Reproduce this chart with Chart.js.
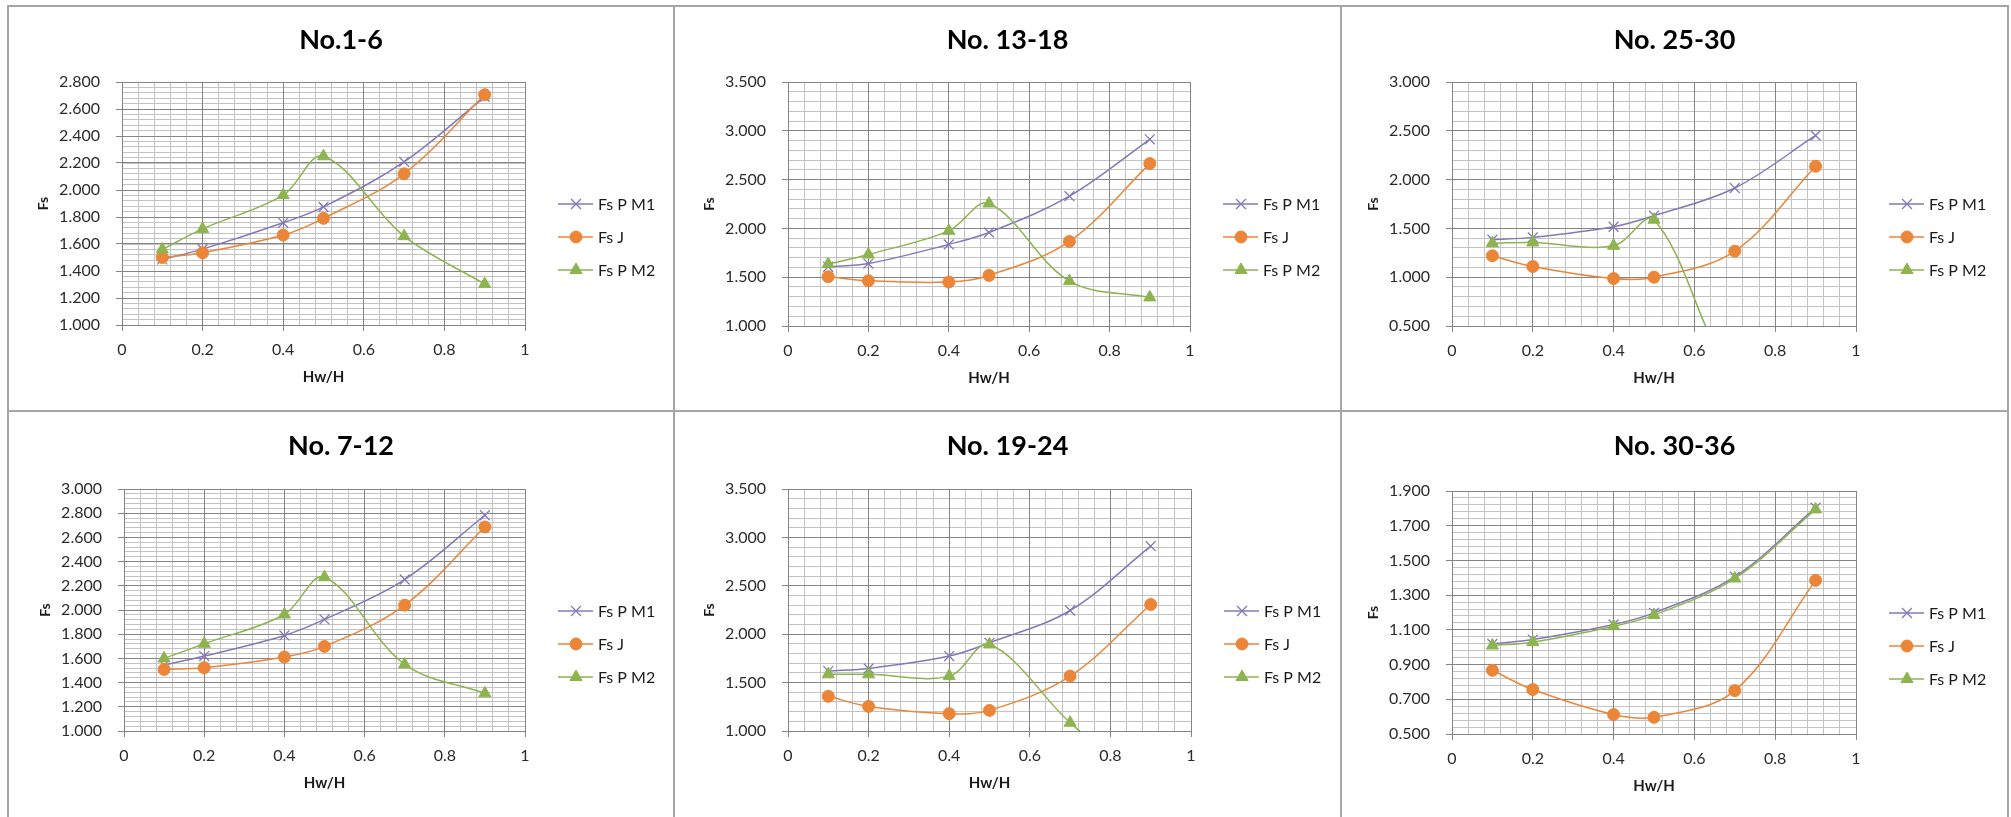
<!DOCTYPE html>
<html>
<head>
<meta charset="utf-8">
<title>Fs vs Hw/H</title>
<script src="https://cdn.jsdelivr.net/npm/chart.js@4.4.1/dist/chart.umd.min.js"></script>
<style>
  html, body { margin: 0; padding: 0; background: #ffffff; }
  #sheet { position: relative; width: 2011px; height: 817px; overflow: hidden; background: #ffffff; }
  .rule { position: absolute; background: #a6a6a6; }
  .panel { position: absolute; display: block; }
</style>
</head>
<body>
<div id="sheet"></div>
<script>
// ---- data -------------------------------------------------------------
// Hw/H values shared by every series
const hwRatio = [0.1, 0.2, 0.4, 0.5, 0.7, 0.9];
const seriesNames = ['Fs P M1', 'Fs J', 'Fs P M2'];
const panelTitles = ['No.1-6', 'No. 13-18', 'No. 25-30', 'No. 7-12', 'No. 19-24', 'No. 30-36'];

// Fs axis per chart: lower bound, upper bound, labelled step
const fsAxisMin  = [1.0, 1.0, 0.5, 1.0, 1.0, 0.5];
const fsAxisMax  = [2.8, 3.5, 3.0, 3.0, 3.5, 1.9];
const fsAxisStep = [0.2, 0.5, 0.5, 0.2, 0.5, 0.2];
// Hw/H axis
const hwAxisMin = 0;
const hwAxisMax = 1;
const hwAxisStep = 0.2;

// No.1-6
const no1to6PM1 = [1.486, 1.562, 1.757, 1.875, 2.208, 2.690];
const no1to6J   = [1.500, 1.535, 1.666, 1.790, 2.120, 2.706];
const no1to6PM2 = [1.560, 1.712, 1.962, 2.250, 1.658, 1.303];
// No. 13-18
const no13to18PM1 = [1.607, 1.640, 1.836, 1.958, 2.330, 2.913];
const no13to18J   = [1.505, 1.464, 1.450, 1.518, 1.866, 2.664];
const no13to18PM2 = [1.634, 1.733, 1.975, 2.255, 1.460, 1.293];
// No. 25-30
const no25to30PM1 = [1.384, 1.408, 1.517, 1.630, 1.914, 2.452];
const no25to30J   = [1.219, 1.110, 0.986, 1.000, 1.267, 2.137];
const no25to30PM2 = [1.349, 1.356, 1.322, 1.589, -0.050, -0.600];
// No. 7-12
const no7to12PM1 = [1.545, 1.619, 1.790, 1.922, 2.252, 2.783];
const no7to12J   = [1.509, 1.523, 1.611, 1.699, 2.040, 2.686];
const no7to12PM2 = [1.600, 1.721, 1.963, 2.271, 1.550, 1.311];
// No. 19-24
const no19to24PM1 = [1.619, 1.646, 1.774, 1.911, 2.245, 2.909];
const no19to24J   = [1.358, 1.254, 1.179, 1.213, 1.567, 2.307];
const no19to24PM2 = [1.585, 1.585, 1.567, 1.894, 1.086, 0.400];
// No. 30-36
const no30to36PM1 = [1.019, 1.044, 1.131, 1.198, 1.406, 1.804];
const no30to36J   = [0.867, 0.756, 0.612, 0.596, 0.750, 1.385];
const no30to36PM2 = [1.010, 1.029, 1.121, 1.185, 1.396, 1.794];

const panelSeries = [
  [no1to6PM1, no1to6J, no1to6PM2],
  [no13to18PM1, no13to18J, no13to18PM2],
  [no25to30PM1, no25to30J, no25to30PM2],
  [no7to12PM1, no7to12J, no7to12PM2],
  [no19to24PM1, no19to24J, no19to24PM2],
  [no30to36PM1, no30to36J, no30to36PM2]
];

// ---- layout -----------------------------------------------------------
const sheet = document.getElementById('sheet');
const RULE = 2;
const colEdges = [7, 673, 1340, 2007];
const rowEdges = [5, 410];

function addRule(x, y, w, h) {
  const d = document.createElement('div');
  d.className = 'rule';
  d.style.left = x + 'px'; d.style.top = y + 'px';
  d.style.width = w + 'px'; d.style.height = h + 'px';
  sheet.appendChild(d);
}
colEdges.forEach(x => addRule(x, rowEdges[0], RULE, 817 - rowEdges[0]));
rowEdges.forEach(y => addRule(colEdges[0], y, colEdges[3] - colEdges[0] + RULE, RULE));

// plot frames on the page (left, top, right, bottom)
const plotFrames = [
  { L: 122, T: 82, R: 525, B: 325 },
  { L: 788, T: 82, R: 1190, B: 326 },
  { L: 1452, T: 82, R: 1856, B: 326 },
  { L: 124, T: 489, R: 525, B: 731 },
  { L: 788, T: 489, R: 1191, B: 731 },
  { L: 1452, T: 491, R: 1856, B: 734 }
];
const titleMidY = [40.5, 446];
const fsTitleGap = 79;     // from plot left edge to centre of "Fs"
const hwTitleGap = 52.5;   // from plot bottom edge to centre of "Hw/H"

const FONT = "Lato, 'Open Sans', 'DejaVu Sans', sans-serif";
const MAJOR_GRID = '#858585';
const MINOR_GRID = '#c3c3c3';

const seriesStyle = [
  { color: '#8478B8', pointStyle: 'crossRot', radius: 7, fill: 'rgba(0,0,0,0)', pointBorder: 1.3, order: 3 },
  { color: '#EB8538', pointStyle: 'circle',   radius: 6, fill: '#EB8538',        pointBorder: 1,   order: 2 },
  { color: '#8DB44F', pointStyle: 'triangle', radius: 7, fill: '#8DB44F',        pointBorder: 1,   order: 1 }
];

// legend drawn to the right of the plot: line with its marker, then the name
const sideLegend = {
  id: 'sideLegend',
  afterDraw(chart, args, opts) {
    const { ctx, chartArea: a } = chart;
    chart.data.datasets.forEach((ds, i) => {
      const y = a.top + opts.top + i * opts.step;
      ctx.save();
      ctx.strokeStyle = ds.borderColor;
      ctx.lineWidth = ds.borderWidth;
      ctx.beginPath();
      ctx.moveTo(a.right + opts.lineStart, y);
      ctx.lineTo(a.right + opts.lineEnd, y);
      ctx.stroke();
      ctx.fillStyle = ds.pointBackgroundColor;
      ctx.strokeStyle = ds.pointBorderColor;
      ctx.lineWidth = ds.pointBorderWidth;
      Chart.helpers.drawPoint(ctx, {
        pointStyle: ds.pointStyle, radius: ds.pointRadius,
        borderWidth: ds.pointBorderWidth, rotation: 0
      }, a.right + opts.marker, y);
      ctx.fillStyle = opts.color;
      ctx.font = opts.font;
      ctx.textAlign = 'left';
      ctx.textBaseline = 'middle';
      ctx.fillText(ds.label, a.right + opts.text, y + 1);
      ctx.restore();
    });
  }
};

function fmtFs(v) { return Number(v).toFixed(3); }
function fmtHw(v) { return String(Math.round(v * 10) / 10); }

panelTitles.forEach((title, idx) => {
  const col = idx % 3, row = Math.floor(idx / 3);
  const cx = colEdges[col] + RULE;
  const cy = rowEdges[row] + RULE;
  const cw = colEdges[col + 1] - cx;
  const ch = (row === 0 ? rowEdges[1] : 817) - cy;
  const f = plotFrames[idx];

  const canvas = document.createElement('canvas');
  canvas.className = 'panel';
  canvas.width = cw; canvas.height = ch;
  canvas.style.left = cx + 'px'; canvas.style.top = cy + 'px';
  canvas.style.width = cw + 'px'; canvas.style.height = ch + 'px';
  sheet.appendChild(canvas);

  const plotLeft = f.L - cx, plotTop = f.T - cy;
  const plotRight = f.R - cx, plotBottom = f.B - cy;

  const titleSize = 27, titleLH = titleSize * 1.2;
  const titlePadTop = (titleMidY[row] - cy) - titleLH / 2;
  const titlePadBottom = plotTop - titlePadTop - titleLH;

  const axisTitleSize = 15, axisTitleLH = axisTitleSize * 1.2;
  const fsPadTop = (plotLeft - fsTitleGap) - 14 * 1.2 / 2;
  const xAxisHeight = ch - plotBottom;
  const hwPadBottom = xAxisHeight - hwTitleGap - axisTitleLH / 2;
  const legendWidth = cw - plotRight;

  const datasets = panelSeries[idx].map((vals, s) => {
    const st = seriesStyle[s];
    return {
      label: seriesNames[s],
      data: hwRatio.map((x, k) => ({ x: x, y: vals[k] })),
      borderColor: st.color,
      borderWidth: 1.5,
      backgroundColor: st.fill,
      pointStyle: st.pointStyle,
      pointRadius: st.radius,
      pointHoverRadius: st.radius,
      pointBackgroundColor: st.fill,
      pointBorderColor: st.color,
      pointBorderWidth: st.pointBorder,
      tension: 0.35,
      cubicInterpolationMode: 'default',
      capBezierPoints: false,
      fill: false,
      order: st.order
    };
  });

  const lo = fsAxisMin[idx], hi = fsAxisMax[idx], step = fsAxisStep[idx];

  new Chart(canvas, {
    type: 'line',
    data: { datasets },
    options: {
      responsive: false,
      animation: false,
      events: [],
      layout: { padding: 0 },
      plugins: {
        legend: { display: false },
        tooltip: { enabled: false },
        title: {
          display: true,
          text: title,
          color: '#000000',
          font: { family: FONT, size: titleSize, weight: 'bold', lineHeight: 1.2 },
          padding: { top: titlePadTop, bottom: titlePadBottom }
        },
        sideLegend: {
          top: 122, step: 33,
          lineStart: 33, lineEnd: 68, marker: 51, text: 73,
          color: '#1a1a1a',
          font: '16px ' + FONT
        }
      },
      scales: {
        xMinor: {
          type: 'linear', position: 'bottom',
          min: hwAxisMin, max: hwAxisMax,
          ticks: { display: false, stepSize: hwAxisStep / 5 },
          grid: { color: MINOR_GRID, lineWidth: 1, drawTicks: false, z: -2 },
          border: { display: false },
          afterFit(s) { s.height = 0; }
        },
        yMinor: {
          type: 'linear', position: 'left',
          min: lo, max: hi,
          ticks: { display: false, stepSize: step / 5 },
          grid: { color: MINOR_GRID, lineWidth: 1, drawTicks: false, z: -2 },
          border: { display: false },
          afterFit(s) { s.width = 0; }
        },
        x: {
          type: 'linear', position: 'bottom',
          min: hwAxisMin, max: hwAxisMax,
          ticks: {
            stepSize: hwAxisStep, autoSkip: false, maxRotation: 0, minRotation: 0,
            padding: 9, color: '#2b2b2b',
            font: { family: FONT, size: 16 },
            callback: fmtHw
          },
          grid: { color: MAJOR_GRID, lineWidth: 1, tickLength: 6, tickColor: MAJOR_GRID, z: -1 },
          border: { display: true, color: MAJOR_GRID, width: 1 },
          title: {
            display: true, text: 'Hw/H', color: '#1a1a1a',
            font: { family: FONT, size: axisTitleSize, weight: 'bold', lineHeight: 1.2 },
            padding: { top: 0, bottom: hwPadBottom }
          },
          afterFit(s) { s.height = xAxisHeight; }
        },
        y: {
          type: 'linear', position: 'left',
          min: lo, max: hi,
          ticks: {
            stepSize: step, autoSkip: false,
            padding: 16, color: '#2b2b2b',
            font: { family: FONT, size: 16 },
            callback: fmtFs
          },
          grid: { color: MAJOR_GRID, lineWidth: 1, tickLength: 6, tickColor: MAJOR_GRID, z: -1 },
          border: { display: true, color: MAJOR_GRID, width: 1 },
          title: {
            display: true, text: 'Fs', color: '#1a1a1a',
            font: { family: FONT, size: 14, weight: 'bold', lineHeight: 1.2 },
            padding: { top: fsPadTop, bottom: 0 }
          },
          afterFit(s) { s.width = plotLeft; }
        },
        // empty band on the right that holds the series legend
        legendBand: {
          type: 'linear', position: 'right',
          display: true,
          ticks: { display: false },
          grid: { display: false, drawTicks: false },
          border: { display: false },
          afterFit(s) { s.width = legendWidth; }
        }
      }
    },
    plugins: [sideLegend]
  });
});
</script>
</body>
</html>
